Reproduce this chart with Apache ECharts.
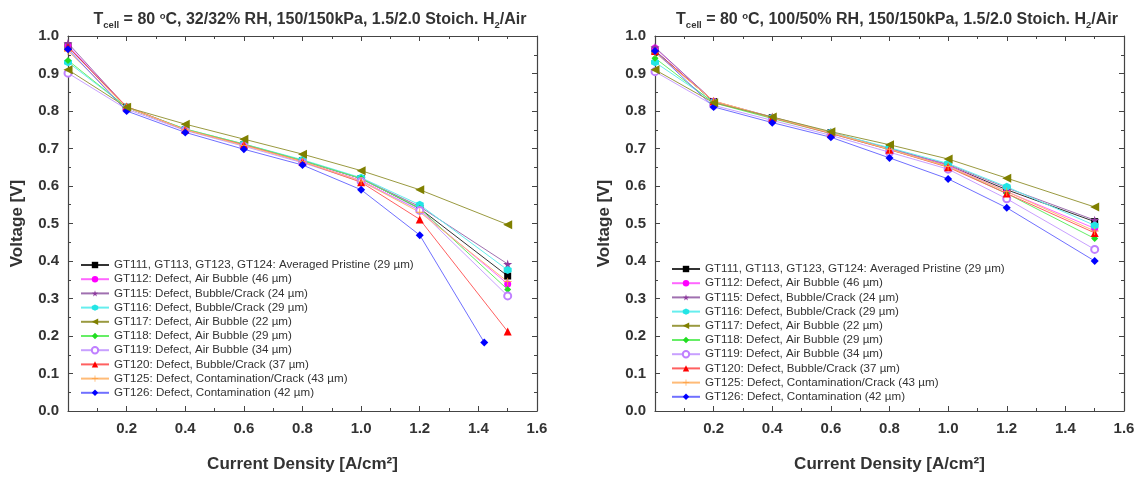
<!DOCTYPE html>
<html>
<head>
<meta charset="utf-8">
<script src="https://cdn.jsdelivr.net/npm/echarts@6/dist/echarts.min.js"></script>
<style>
html,body{margin:0;padding:0;background:#fff;}
#c{width:1140px;height:478px;}
</style>
</head>
<body>
<div id="c"></div>
<script>
// ---------- data ----------
const seriesNames = [
  'GT111, GT113, GT123, GT124: Averaged Pristine (29 µm)',
  'GT112: Defect, Air Bubble (46 µm)',
  'GT115: Defect, Bubble/Crack (24 µm)',
  'GT116: Defect, Bubble/Crack (29 µm)',
  'GT117: Defect, Air Bubble (22 µm)',
  'GT118: Defect, Air Bubble (29 µm)',
  'GT119: Defect, Air Bubble (34 µm)',
  'GT120: Defect, Bubble/Crack (37 µm)',
  'GT125: Defect, Contamination/Crack (43 µm)',
  'GT126: Defect, Contamination (42 µm)'
];
const currentDensity = [0, 0.2, 0.4, 0.6, 0.8, 1.0, 1.2, 1.5];
const currentDensityGT126Left = [0, 0.2, 0.4, 0.6, 0.8, 1.0, 1.2, 1.42];
const xTicks = [0, 0.2, 0.4, 0.6, 0.8, 1.0, 1.2, 1.4, 1.6];
const yTicks = [0, 0.1, 0.2, 0.3, 0.4, 0.5, 0.6, 0.7, 0.8, 0.9, 1.0];

// Left: 32/32% RH
const left_GT111 = [0.972, 0.810, 0.750, 0.710, 0.668, 0.620, 0.540, 0.360];
const left_GT112 = [0.975, 0.810, 0.750, 0.710, 0.665, 0.615, 0.535, 0.339];
const left_GT115 = [0.981, 0.810, 0.750, 0.710, 0.668, 0.620, 0.545, 0.392];
const left_GT116 = [0.930, 0.810, 0.752, 0.712, 0.670, 0.622, 0.550, 0.376];
const left_GT117 = [0.910, 0.810, 0.765, 0.725, 0.685, 0.641, 0.590, 0.497];
const left_GT118 = [0.935, 0.810, 0.752, 0.712, 0.668, 0.620, 0.540, 0.324];
const left_GT119 = [0.901, 0.805, 0.748, 0.706, 0.662, 0.612, 0.535, 0.307];
const left_GT120 = [0.970, 0.812, 0.750, 0.710, 0.665, 0.610, 0.511, 0.212];
const left_GT125 = [0.960, 0.810, 0.750, 0.708, 0.665, 0.613, 0.530, 0.345];
const left_GT126 = [0.965, 0.800, 0.743, 0.698, 0.656, 0.590, 0.469, 0.183];

// Right: 100/50% RH
const right_GT111 = [0.961, 0.825, 0.782, 0.742, 0.700, 0.655, 0.590, 0.505];
const right_GT112 = [0.968, 0.826, 0.783, 0.742, 0.700, 0.655, 0.585, 0.487];
const right_GT115 = [0.970, 0.826, 0.784, 0.743, 0.700, 0.658, 0.595, 0.509];
const right_GT116 = [0.930, 0.824, 0.782, 0.743, 0.702, 0.660, 0.598, 0.495];
const right_GT117 = [0.910, 0.822, 0.784, 0.745, 0.710, 0.672, 0.621, 0.544];
const right_GT118 = [0.941, 0.822, 0.780, 0.740, 0.697, 0.652, 0.580, 0.460];
const right_GT119 = [0.905, 0.815, 0.775, 0.735, 0.690, 0.645, 0.566, 0.431];
const right_GT120 = [0.960, 0.826, 0.782, 0.740, 0.697, 0.650, 0.580, 0.475];
const right_GT125 = [0.955, 0.827, 0.783, 0.742, 0.698, 0.652, 0.585, 0.480];
const right_GT126 = [0.960, 0.811, 0.769, 0.730, 0.675, 0.619, 0.542, 0.400];

const leftValues = [left_GT111, left_GT112, left_GT115, left_GT116, left_GT117, left_GT118, left_GT119, left_GT120, left_GT125, left_GT126];
const rightValues = [right_GT111, right_GT112, right_GT115, right_GT116, right_GT117, right_GT118, right_GT119, right_GT120, right_GT125, right_GT126];

// ---------- styles ----------
const STAR = 'path://M50,0 L61,35 L98,35 L68,57 L79,91 L50,70 L21,91 L32,57 L2,35 L39,35 Z';
const CROSS = 'path://M45,0 L55,0 L55,45 L100,45 L100,55 L55,55 L55,100 L45,100 L45,55 L0,55 L0,45 L45,45 Z';
const HEX = 'path://M50,0 L93,25 L93,75 L50,100 L7,75 L7,25 Z';
const styles = [
  {color:'#000000', line:'#333333', symbol:'rect', size:7},
  {color:'#ff00ff', line:'#ff66ff', symbol:'circle', size:7},
  {color:'#8e3a9e', line:'#a070b0', symbol:STAR, size:9},
  {color:'#22e5e5', line:'#66eeee', symbol:HEX, size:8},
  {color:'#808000', line:'#9a9a40', symbol:'triangle', size:9, rotate:90},
  {color:'#22dd22', line:'#66ee66', symbol:'diamond', size:7},
  {color:'#c080ff', line:'#c8a0ff', symbol:'emptyCircle', size:7},
  {color:'#ff0000', line:'#ff6060', symbol:'triangle', size:8},
  {color:'#ffa040', line:'#ffbb77', symbol:CROSS, size:8},
  {color:'#0000ff', line:'#7070ff', symbol:'diamond', size:8}
];

function pairs(xs, ys){ return xs.map((x,i)=>[x, ys[i]]); }

function makeSeries(values, xIdx, yIdx, isLeft){
  return values.map((vals, i) => {
    const s = styles[i];
    const xs = (isLeft && i === 9) ? currentDensityGT126Left : currentDensity;
    return {
      name: seriesNames[i],
      type: 'line',
      xAxisIndex: xIdx,
      yAxisIndex: yIdx,
      data: pairs(xs, vals),
      symbol: s.symbol,
      symbolSize: s.size,
      symbolRotate: s.rotate || 0,
      showSymbol: true,
      animation: false,
      lineStyle: {color: s.line, width: 1},
      itemStyle: {color: s.color, borderColor: s.color, borderWidth: s.symbol === 'emptyCircle' ? 1.2 : 0},
      emphasis: {disabled: true},
      z: 10 - (i === 4 ? 0 : 1)
    };
  });
}

const axisColor = '#444';
const labelStyle = {fontFamily: 'Liberation Sans, Arial, sans-serif', fontWeight: 'bold', fontSize: 15, color: '#333'};

function xAxes(grid){
  return [
    {
      gridIndex: grid, type: 'value', min: 0, max: 1.6, interval: 0.2,
      axisLine: {show: true, onZero: false, lineStyle: {color: axisColor, width: 1.2}},
      axisTick: {show: true, inside: true, length: 5, lineStyle: {color: axisColor}},
      minorTick: {show: true, splitNumber: 2, length: 3, lineStyle: {color: axisColor}},
      splitLine: {show: false},
      axisLabel: Object.assign({margin: 10, formatter: v => v === 0 ? '' : v.toFixed(1)}, labelStyle),
      name: 'Current Density [A/cm²]', nameLocation: 'middle', nameGap: 45,
      nameTextStyle: {fontFamily: 'Liberation Sans, Arial, sans-serif', fontWeight: 'bold', fontSize: 17, color: '#333'}
    },
    {
      gridIndex: grid, type: 'value', min: 0, max: 1.6, interval: 0.2, position: 'top',
      axisLine: {show: true, onZero: false, lineStyle: {color: axisColor, width: 1.2}},
      axisTick: {show: true, inside: true, length: 5, lineStyle: {color: axisColor}},
      minorTick: {show: true, splitNumber: 2, length: 3, lineStyle: {color: axisColor}},
      splitLine: {show: false},
      axisLabel: {show: false}
    }
  ];
}
function yAxes(grid){
  return [
    {
      gridIndex: grid, type: 'value', min: 0, max: 1.0, interval: 0.1,
      axisLine: {show: true, onZero: false, lineStyle: {color: axisColor, width: 1.2}},
      axisTick: {show: true, inside: true, length: 5, lineStyle: {color: axisColor}},
      minorTick: {show: true, splitNumber: 2, length: 3, lineStyle: {color: axisColor}},
      splitLine: {show: false},
      axisLabel: Object.assign({margin: 9, formatter: v => v.toFixed(1)}, labelStyle),
      name: 'Voltage [V]', nameLocation: 'middle', nameGap: 42,
      nameTextStyle: {fontFamily: 'Liberation Sans, Arial, sans-serif', fontWeight: 'bold', fontSize: 17, color: '#333'}
    },
    {
      gridIndex: grid, type: 'value', min: 0, max: 1.0, interval: 0.1, position: 'right',
      axisLine: {show: true, onZero: false, lineStyle: {color: axisColor, width: 1.2}},
      axisTick: {show: true, inside: true, length: 5, lineStyle: {color: axisColor}},
      minorTick: {show: true, splitNumber: 2, length: 3, lineStyle: {color: axisColor}},
      splitLine: {show: false},
      axisLabel: {show: false}
    }
  ];
}

const titleRich = {
  n: {fontFamily: 'Liberation Sans, Arial, sans-serif', fontWeight: 'bold', fontSize: 16, color: '#333'},
  sub: {fontFamily: 'Liberation Sans, Arial, sans-serif', fontWeight: 'bold', fontSize: 9.5, color: '#333', padding: [10, 0, 0, 0]},
  sup: {fontFamily: 'Liberation Sans, Arial, sans-serif', fontWeight: 'bold', fontSize: 9.5, color: '#333', padding: [0, 0, 7, 0]}
};
function titleText(rh){
  return '{n|T}{sub|cell}{n| = 80 }{sup|o}{n|C, ' + rh + ' RH, 150/150kPa, 1.5/2.0 Stoich. H}{sub|2}{n|/Air}';
}

const legendText = {fontFamily: 'Liberation Sans, Arial, sans-serif', fontSize: 11.6, color: '#333', lineHeight: 14};

const option = {
  backgroundColor: '#fff',
  animation: false,
  title: [
    {text: titleText('32/32%'), left: 305, top: 5, textAlign: 'center', textStyle: {rich: titleRich}},
    {text: titleText('100/50%'), left: 892, top: 5, textAlign: 'center', textStyle: {rich: titleRich}}
  ],
  grid: [
    {left: 68, top: 36, width: 469, height: 378},
    {left: 655, top: 36, width: 469, height: 378}
  ],
  xAxis: [...xAxes(0), ...xAxes(1)],
  yAxis: [...yAxes(0), ...yAxes(1)],
  legend: [
    {orient: 'vertical', left: 80, top: 258, padding: 0, itemWidth: 28, itemHeight: 8, itemGap: 0.2, data: seriesNames, textStyle: legendText, selectedMode: false},
    {orient: 'vertical', left: 671, top: 262, padding: 0, itemWidth: 28, itemHeight: 8, itemGap: 0.2, data: seriesNames, textStyle: legendText, selectedMode: false}
  ],
  series: [...makeSeries(leftValues, 0, 0, true), ...makeSeries(rightValues, 2, 2, false)]
};

const chart = echarts.init(document.getElementById('c'), null, {renderer: 'canvas'});
chart.setOption(option);
</script>
</body>
</html>
